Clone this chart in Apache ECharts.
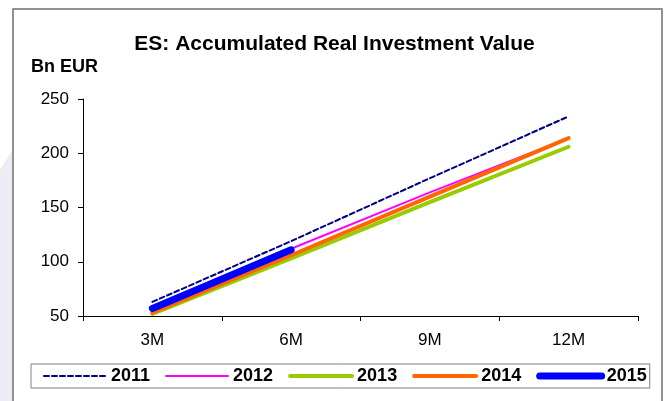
<!DOCTYPE html>
<html>
<head>
<meta charset="utf-8">
<script src="https://cdn.jsdelivr.net/npm/echarts@6/dist/echarts.min.js"></script>
<style>
  html, body { margin: 0; padding: 0; background: #ffffff; }
  #chart { width: 669px; height: 401px; }
</style>
</head>
<body>
<div id="chart"></div>
<script>
// Horizons and accumulated real investment value (Bn EUR) by year
const horizons = ['3M', '6M', '9M', '12M'];
const yearNames = ['2011', '2012', '2013', '2014', '2015'];
const v2011 = [63, 119, 177, 234];
const v2012 = [56, 112, 164, 214];
const v2013 = [52, 103, 155, 206];
const v2014 = [53, 106, 160, 214];
const v2015 = [57, 111];
const yTicks = [50, 100, 150, 200, 250];

const FONT = '"Liberation Sans", Arial, sans-serif';

const styles = {
  '2011': { color: '#000080', width: 2, type: [5, 3] },
  '2012': { color: '#ff00ff', width: 2, type: 'solid' },
  '2013': { color: '#99cc00', width: 4, type: 'solid' },
  '2014': { color: '#ff6600', width: 4, type: 'solid' },
  '2015': { color: '#0000ff', width: 7, type: 'solid' }
};
const values = { '2011': v2011, '2012': v2012, '2013': v2013, '2014': v2014, '2015': v2015 };

const chart = echarts.init(document.getElementById('chart'), null, { renderer: 'canvas' });

chart.setOption({
  backgroundColor: '#ffffff',
  animation: false,
  textStyle: { fontFamily: FONT },
  title: {
    text: 'ES: Accumulated Real Investment Value',
    left: 'center',
    top: 29,
    textStyle: { fontFamily: FONT, fontSize: 21, fontWeight: 'bold', color: '#000' }
  },
  graphic: [
    {
      type: 'polygon', silent: true, z: -10,
      shape: { points: [[0, 170], [12, 150], [12, 401], [0, 401]] },
      style: { fill: '#ececf4' }
    },
    {
      type: 'rect', silent: true, z: -5,
      shape: { x: 13, y: 9, width: 649, height: 400 },
      style: { fill: '#ffffff', stroke: '#6e6e6e', lineWidth: 1.5 }
    },
    {
      type: 'text', left: 31, top: 58, silent: true,
      style: { text: 'Bn EUR', fontFamily: FONT, fontSize: 18, fontWeight: 'bold', fill: '#000' }
    }
  ],
  legend: {
    left: 31, top: 364,
    padding: [3, 3, 3, 12],
    itemGap: 15,
    itemWidth: 62,
    itemHeight: 18,
    borderColor: '#7f7f7f',
    borderWidth: 1,
    backgroundColor: '#ffffff',
    itemStyle: { opacity: 0 },
    textStyle: { fontFamily: FONT, fontSize: 18, fontWeight: 'bold', color: '#000' },
    data: yearNames.map(name => ({
      name: name,
      itemStyle: { opacity: 0 },
      lineStyle: {
        color: styles[name].color,
        width: styles[name].width,
        type: styles[name].type,
        cap: 'round'
      }
    }))
  },
  grid: { left: 83, right: 31, top: 99, bottom: 85, containLabel: false },
  xAxis: {
    type: 'category',
    data: horizons,
    boundaryGap: true,
    axisLine: { lineStyle: { color: '#000', width: 1 } },
    axisTick: { show: true, length: 5, inside: false, interval: 0, lineStyle: { color: '#000' } },
    axisLabel: { fontFamily: FONT, fontSize: 17, color: '#000', margin: 16 },
    splitLine: { show: false }
  },
  yAxis: {
    type: 'value',
    min: yTicks[0],
    max: yTicks[yTicks.length - 1],
    interval: 50,
    axisLine: { show: true, lineStyle: { color: '#000', width: 1 } },
    axisTick: { show: true, length: 5, inside: false, lineStyle: { color: '#000' } },
    axisLabel: { fontFamily: FONT, fontSize: 17, color: '#000', margin: 14 },
    splitLine: { show: false }
  },
  series: yearNames.map((name, i) => ({
    name: name,
    type: 'line',
    data: values[name],
    symbol: 'none',
    showSymbol: false,
    z: 2 + i,
    itemStyle: { color: styles[name].color },
    lineStyle: {
      color: styles[name].color,
      width: styles[name].width,
      type: styles[name].type,
      cap: 'round',
      join: 'round'
    }
  }))
});
</script>
</body>
</html>
